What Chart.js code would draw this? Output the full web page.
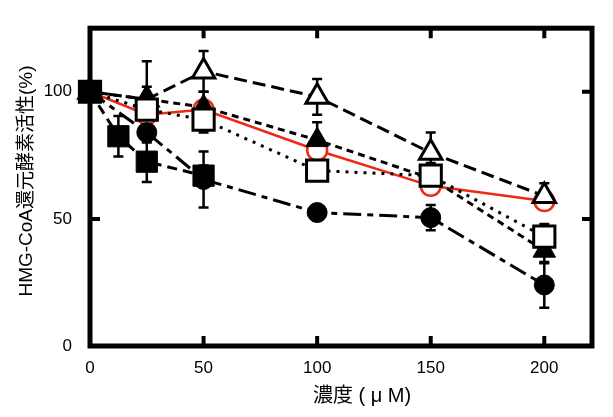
<!DOCTYPE html>
<html lang="ja">
<head>
<meta charset="UTF-8">
<title>HMG-CoA還元酵素活性</title>
<script src="https://cdn.jsdelivr.net/npm/chart.js"></script>
<style>
    * { margin: 0; padding: 0; }
    body { background: #fff; }
    .box { width: 613px; height: 417px; }
</style>
</head>
<body>
<div class="box"><canvas id="chart"></canvas></div>
<script>
    // 濃度 (μM)
    const conc = [0, 25, 50, 100, 150, 200];
    const concSqFilled = [0, 12.5, 25, 50];

    // 活性 (%) と誤差
    const openTri = [100, 97, 108, 98, 76, 59];
    const openTriErr = [0, 15, 8, 7, 8, 5];
    const filledTri = [100, 97, 94, 81, 66, 37.5];
    const filledTriErr = [0, 5, 6, 7, 6, 5];
    const openSq = [100, 93, 89, 69, 67, 43];
    const openSqErr = [0, 5, 5, 4, 4, 5];
    const filledCirc = [100, 84, 65.5, 52.5, 50.5, 24];
    const filledCircErr = [0, 4, 11, 3, 5, 9];
    const filledSq = [100, 82.5, 72.5, 67];
    const filledSqErr = [0, 8, 8, 4];
    const redCirc = [100, 91, 93, 77, 63, 57];

    const xTicks = [0, 50, 100, 150, 200];
    const yTicks = [0, 50, 100];

    const pts = (xs, ys) => xs.map((x, i) => ({ x: x, y: ys[i] }));
    const FONT = "'Liberation Sans', 'Noto Sans CJK JP', sans-serif";

    // 枠・内向き目盛り・誤差棒・軸タイトル
    const framePlugin = {
        id: 'frame',
        beforeDatasetsDraw(chart) {
            const ctx = chart.ctx;
            const a = chart.chartArea;
            const xs = chart.scales.x, ys = chart.scales.y;
            ctx.save();
            ctx.strokeStyle = '#000';
            ctx.lineWidth = 5;
            ctx.strokeRect(a.left, a.top, a.right - a.left, a.bottom - a.top);
            ctx.lineWidth = 4;
            ctx.beginPath();
            xTicks.forEach(v => {
                if (v === 0) return;
                const px = xs.getPixelForValue(v);
                ctx.moveTo(px, a.bottom); ctx.lineTo(px, a.bottom - 10);
                ctx.moveTo(px, a.top); ctx.lineTo(px, a.top + 10);
            });
            yTicks.forEach(v => {
                if (v === 0) return;
                const py = ys.getPixelForValue(v);
                ctx.moveTo(a.left, py); ctx.lineTo(a.left + 10, py);
                ctx.moveTo(a.right, py); ctx.lineTo(a.right - 10, py);
            });
            ctx.stroke();

            // 誤差棒
            ctx.lineWidth = 2.5;
            chart.data.datasets.forEach(ds => {
                if (!ds.errors) return;
                ds.data.forEach((p, i) => {
                    const e = ds.errors[i];
                    if (!e) return;
                    const px = xs.getPixelForValue(p.x);
                    const top = ys.getPixelForValue(p.y + e);
                    const bot = ys.getPixelForValue(p.y - e);
                    ctx.beginPath();
                    ctx.moveTo(px, top); ctx.lineTo(px, bot);
                    ctx.moveTo(px - 5, top); ctx.lineTo(px + 5, top);
                    ctx.moveTo(px - 5, bot); ctx.lineTo(px + 5, bot);
                    ctx.stroke();
                });
            });
            ctx.restore();
        },
        afterDraw(chart) {
            const ctx = chart.ctx;
            ctx.save();
            ctx.fillStyle = '#000';
            ctx.textAlign = 'center';
            ctx.textBaseline = 'middle';
            ctx.font = "20px " + FONT;
            ctx.fillText('濃度 ( μ M)', 362, 396);
            ctx.font = "19px " + FONT;
            ctx.translate(27, 181);
            ctx.rotate(-Math.PI / 2);
            ctx.fillText('HMG-CoA還元酵素活性(%)', 0, 0);
            ctx.restore();
        }
    };

    const black = '#000';
    new Chart(document.getElementById('chart'), {
        type: 'scatter',
        data: {
            datasets: [
                {
                    data: pts(concSqFilled, filledSq), errors: filledSqErr,
                    borderColor: black, borderWidth: 3, borderDash: [10, 6],
                    pointStyle: 'rect', pointRadius: 15, pointBackgroundColor: black,
                    pointBorderColor: black, pointBorderWidth: 1
                },
                {
                    data: pts(conc, filledCirc), errors: filledCircErr,
                    borderColor: black, borderWidth: 3, borderDash: [18, 6, 6, 6],
                    pointStyle: 'circle', pointRadius: 10, pointBackgroundColor: black,
                    pointBorderColor: black, pointBorderWidth: 1
                },
                {
                    data: pts(conc, openSq), errors: openSqErr,
                    borderColor: black, borderWidth: 3, borderDash: [3, 6],
                    pointStyle: 'rect', pointRadius: 15, pointBackgroundColor: '#fff',
                    pointBorderColor: black, pointBorderWidth: 3
                },
                {
                    data: pts(conc, filledTri), errors: filledTriErr,
                    borderColor: black, borderWidth: 3, borderDash: [7, 5],
                    pointStyle: 'triangle', pointRadius: 13, pointBackgroundColor: black,
                    pointBorderColor: black, pointBorderWidth: 1
                },
                {
                    data: pts(conc, openTri), errors: openTriErr,
                    borderColor: black, borderWidth: 3, borderDash: [13, 6],
                    pointStyle: 'triangle', pointRadius: 13, pointBackgroundColor: '#fff',
                    pointBorderColor: black, pointBorderWidth: 3
                },
                {
                    data: pts(conc, redCirc),
                    borderColor: '#ee2a14', borderWidth: 2.5,
                    pointStyle: 'circle', pointRadius: 10, pointBackgroundColor: '#fff',
                    pointBorderColor: '#ee2a14', pointBorderWidth: 2.5
                }
            ].map(d => Object.assign({ showLine: true, clip: false, pointHoverRadius: d.pointRadius }, d))
        },
        options: {
            responsive: true,
            maintainAspectRatio: false,
            animation: false,
            events: [],
            layout: { padding: { left: 0, right: 21, top: 10, bottom: 0 } },
            plugins: { legend: { display: false }, tooltip: { enabled: false } },
            scales: {
                x: {
                    type: 'linear', min: 0, max: 221,
                    grid: { display: false, drawTicks: false },
                    border: { display: false },
                    afterFit: s => { s.height = 71; },
                    afterBuildTicks: s => { s.ticks = xTicks.map(v => ({ value: v })); },
                    ticks: { color: black, padding: 12, font: { size: 17, family: FONT }, maxRotation: 0 }
                },
                y: {
                    type: 'linear', min: 0, max: 125,
                    grid: { display: false, drawTicks: false },
                    border: { display: false },
                    afterFit: s => { s.width = 90; },
                    afterBuildTicks: s => { s.ticks = yTicks.map(v => ({ value: v })); },
                    ticks: { color: black, padding: 18, font: { size: 17, family: FONT } }
                }
            }
        },
        plugins: [framePlugin]
    });
</script>
</body>
</html>
